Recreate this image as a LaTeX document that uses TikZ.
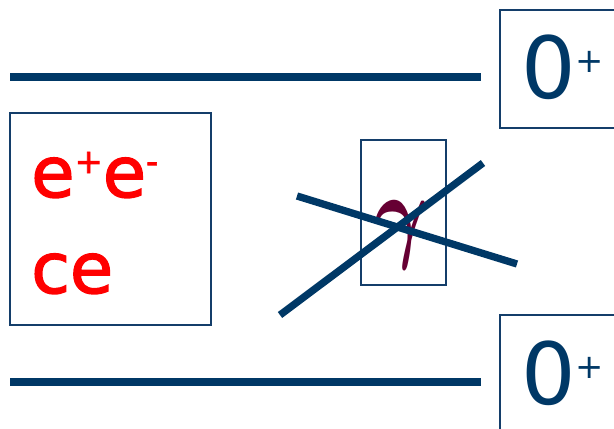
\RequirePackage{fix-cm}
\documentclass[tikz,border=0pt]{standalone}
\usepackage{fontspec}
\newfontfamily\statefont{DejaVu Sans}
\newfontfamily\pairfont{DejaVu Sans}[FakeBold=2]
\usetikzlibrary{positioning}
\definecolor{navy}{RGB}{0,56,102}
\definecolor{boxnavy}{RGB}{20,62,106}
\definecolor{gammared}{RGB}{102,0,51}
\newcommand{\chgmark}[3]{\raisebox{#2}{\fontsize{#1}{#1}\selectfont #3}}

\begin{document}
\begin{tikzpicture}[
    x=0.025cm, y=-0.025cm,
    level/.style={
        draw=navy,
        line width=5.9pt
    },
    cross/.style={
        draw=navy,
        line width=5.2pt
    },
    thinbox/.style={
        draw=boxnavy,
        line width=1.3pt,
        inner sep=0pt
    },
    statetext/.style={
        text=navy,
        inner sep=0pt,
        font=\statefont\fontsize{61}{61}\selectfont
    },
    pairtext/.style={
        text=red,
        inner sep=0pt,
        font=\pairfont\fontsize{50}{50}\selectfont
    }
]
\useasboundingbox (0,0) rectangle (614,429);
\clip (0,0) rectangle (614,429);

% --- States on the right
\node[thinbox, minimum width=3.5cm, minimum height=2.95cm] (topstate) at (570,69) {};
\node[thinbox, minimum width=3.5cm, minimum height=3.4cm] (botstate) at (570,383) {};
\node[statetext, anchor=base west] (toplabel) at (521,98) {0\chgmark{24}{18pt}{+}};
\node[statetext, anchor=base west] (botlabel) at (521,404) {0\chgmark{24}{18pt}{+}};

% --- Levels
\coordinate (topstart) at (10,77);
\coordinate (botstart) at (10,382);
\draw[level, shorten >=0.45cm] (topstart) -- (topstart -| topstate.west);
\draw[level, shorten >=0.45cm] (botstart) -- (botstart -| botstate.west);

% --- Pair box
\node[thinbox, minimum width=5.03cm, minimum height=5.3cm] (pairbox) at (110.5,219) {};
\node[pairtext, anchor=base west] (pairline) at (31,197) {e\chgmark{24}{17pt}{+}e\chgmark{24}{17pt}{-}};
\node[pairtext, anchor=base west] (celine) at (31,293) {ce};

% --- Gamma box
\node[thinbox, minimum width=2.13cm, minimum height=3.63cm] (gammabox) at (403.5,212.5) {};
\node[text=gammared, inner sep=0pt] (gamma) at (402,235)
    {\scalebox{0.75}[1]{\fontsize{76}{76}\selectfont\boldmath$\gamma$}};

% --- Cross
\coordinate (crossA) at (297,196);
\coordinate (crossB) at (517,264);
\coordinate (crossC) at (280,315);
\coordinate (crossD) at (483,163);
\draw[cross] (crossA) -- (crossB);
\draw[cross] (crossC) -- (crossD);

\end{tikzpicture}
\end{document}
